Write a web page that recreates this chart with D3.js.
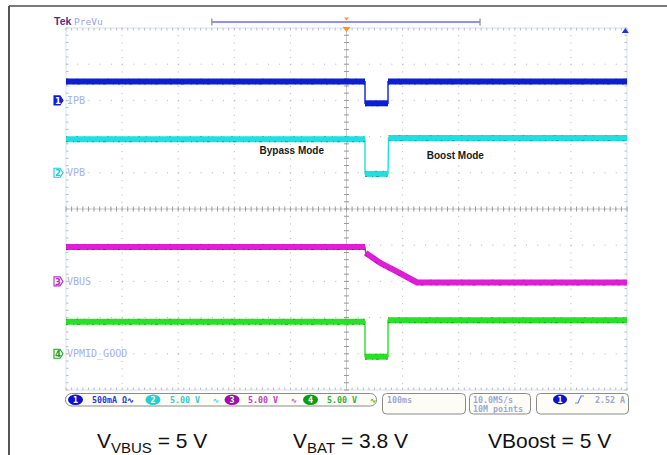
<!DOCTYPE html>
<html><head><meta charset="utf-8">
<script src="https://cdn.jsdelivr.net/npm/d3@7"></script>
<style>
html,body{margin:0;padding:0;background:#fff;}
svg{display:block;}
</style></head>
<body>
<svg id="c" width="667" height="455"></svg>
<script>
// ---- data (time in ms, trigger at 0; 100 ms/div) ----
const channels = ["IPB", "VPB", "VBUS", "VPMID_GOOD"];
const channelScale = [0.5, 5, 5, 5];          // units per division
const channelOffset = [3, 1, -2, -4];          // ground position, divisions
const scaleLabels = ["500mA Ω∿", "5.00 V", "5.00 V", "5.00 V"];
const ipbT = [-500, 33, 33, 74, 74, 500];
const ipbV = [0.26, 0.26, -0.04, -0.04, 0.26, 0.26];
const vpbT = [-500, 33, 33, 74, 75, 500];
const vpbV = [4.65, 4.65, -0.15, -0.15, 4.8, 4.8];
const vbusT = [-500, 33, 34, 60, 90, 126, 500];
const vbusV = [4.76, 4.76, 3.94, 2.56, 1.35, -0.15, -0.15];
const vpmidT = [-500, 33, 33, 74, 74, 500];
const vpmidV = [4.42, 4.42, -0.4, -0.4, 4.65, 4.65];
const modeLabels = ["Bypass Mode", "Boost Mode"];
const modeT = [-155, 143];
const modeDiv = [1.52, 1.38];
const timeDiv = "100ms";
const sampleInfo = ["10.0MS/s", "10M points"];
const trigLevel = "2.52 A";
const captions = [["V", "VBUS", " = 5 V"], ["V", "BAT", " = 3.8 V"], ["VBoost = 5 V", "", ""]];

const colors = ["#0d1fd6", "#1fe0e0", "#e01ed8", "#28e028"];
const markColors = ["#0d1fd6", "#22c8d8", "#b030c0", "#20a020"];
const chipColors = ["#1010d0", "#22d0d0", "#a010a8", "#109c10"];
const textColors = ["#2a3ad8", "#38caca", "#c040c8", "#34b034"];

const svg = d3.select("#c");
const x = d3.scaleLinear().domain([-500, 500]).range([66, 627]);
const yd = d3.scaleLinear().domain([-5, 5]).range([390, 28]);
const yCh = (i, v) => yd(channelOffset[i] + v / channelScale[i]);

// outer frame
svg.append("line").attr("x1", 9).attr("x2", 667).attr("y1", 6).attr("y2", 6).attr("stroke", "#7a7a7a").attr("stroke-width", 2);
svg.append("line").attr("x1", 9).attr("x2", 9).attr("y1", 6).attr("y2", 455).attr("stroke", "#555").attr("stroke-width", 2);

// grid
const g = svg.append("g");
g.append("rect").attr("x", x(-500)).attr("y", yd(5)).attr("width", x(500) - x(-500)).attr("height", yd(-5) - yd(5))
  .attr("fill", "none").attr("stroke", "#dbe6f4").attr("stroke-width", 1.2);
const xDivs = d3.range(-400, 500, 100);
const yDivs = d3.range(-4, 5, 1);
const minorX = (x(100) - x(0)) / 5, minorY = (yd(0) - yd(1)) / 5;
xDivs.forEach(t => {
  g.append("line").attr("x1", x(t)).attr("x2", x(t)).attr("y1", yd(5)).attr("y2", yd(-5))
    .attr("stroke", "#b4b4b4").attr("stroke-dasharray", `1 ${minorY - 1}`);
});
yDivs.forEach(d => {
  g.append("line").attr("x1", x(-500)).attr("x2", x(500)).attr("y1", yd(d)).attr("y2", yd(d))
    .attr("stroke", "#b4b4b4").attr("stroke-dasharray", `1 ${minorX - 1}`);
});
// center axes
g.append("line").attr("x1", x(0)).attr("x2", x(0)).attr("y1", yd(5)).attr("y2", yd(-5)).attr("stroke", "#bbb").attr("stroke-width", 0.8);
g.append("line").attr("x1", x(-500)).attr("x2", x(500)).attr("y1", yd(0)).attr("y2", yd(0)).attr("stroke", "#bbb").attr("stroke-width", 0.8);
d3.range(-50, 51).forEach(k => {
  const xx = x(k * 10);
  g.append("line").attr("x1", xx).attr("x2", xx).attr("y1", yd(0) - 2.5).attr("y2", yd(0) + 2.5).attr("stroke", "#999");
  g.append("line").attr("x1", xx).attr("x2", xx).attr("y1", yd(5)).attr("y2", yd(5) + 2.5).attr("stroke", "#bbb");
  g.append("line").attr("x1", xx).attr("x2", xx).attr("y1", yd(-5)).attr("y2", yd(-5) - 2.5).attr("stroke", "#bbb");
});
d3.range(-25, 26).forEach(k => {
  const yy = yd(k / 5);
  g.append("line").attr("x1", x(0) - 2.5).attr("x2", x(0) + 2.5).attr("y1", yy).attr("y2", yy).attr("stroke", "#999");
  g.append("line").attr("x1", x(-500)).attr("x2", x(-500) + 2.5).attr("y1", yy).attr("y2", yy).attr("stroke", "#bbb");
  g.append("line").attr("x1", x(500)).attr("x2", x(500) - 2.5).attr("y1", yy).attr("y2", yy).attr("stroke", "#bbb");
});

// top header
svg.append("text").attr("x", 54).attr("y", 25).text("Tek").attr("font-family", "Liberation Sans, Arial").attr("font-weight", "bold").attr("font-size", 10.5).attr("fill", "#5a2a90");
svg.append("text").attr("x", 74).attr("y", 25).text("PreVu").attr("font-family", "DejaVu Sans Mono").attr("font-size", 9.5).attr("fill", "#98a4e8");
svg.append("line").attr("x1", x(-240)).attr("x2", x(238)).attr("y1", 22).attr("y2", 22).attr("stroke", "#6c6cf0").attr("stroke-width", 1.3);
[x(-240), x(238)].forEach(xx => svg.append("line").attr("x1", xx).attr("x2", xx).attr("y1", 18.5).attr("y2", 25.5).attr("stroke", "#888").attr("stroke-width", 1.2));
svg.append("path").attr("d", `M${x(0) - 2.5},17.5L${x(0) + 2.5},17.5L${x(0)},20.5Z`).attr("fill", "#f5a020");
svg.append("path").attr("d", `M${x(0) - 4},27L${x(0) + 4},27L${x(0)},32Z`).attr("fill", "#f59a10");
svg.append("path").attr("d", `M${x(497) - 3.5},33L${x(497) + 3.5},33L${x(497)},28Z`).attr("fill", "#2030e0");

// traces: thin transitions, thick noisy bands for settled/ramping segments
const series = [[ipbT, ipbV], [vpbT, vpbV], [vbusT, vbusV], [vpmidT, vpmidV]];
const line = d3.line();
series.forEach(([ts, vs], i) => {
  const pts = ts.map((t, k) => [x(t), yCh(i, vs[k])]);
  svg.append("path").attr("d", line(pts)).attr("fill", "none").attr("stroke", colors[i]).attr("stroke-width", 1.4);
  // group consecutive non-vertical segments into runs
  const runs = [];
  let cur = [pts[0]];
  for (let k = 1; k < pts.length; k++) {
    if (Math.abs(pts[k][0] - pts[k - 1][0]) < 0.8) { if (cur.length > 1) runs.push(cur); cur = [pts[k]]; }
    else cur.push(pts[k]);
  }
  if (cur.length > 1) runs.push(cur);
  runs.forEach(r => {
    svg.append("path").attr("d", line(r)).attr("fill", "none").attr("stroke", colors[i]).attr("stroke-width", 6).attr("stroke-linejoin", "round");
    svg.append("path").attr("d", line(r)).attr("fill", "none").attr("stroke", "#000").attr("stroke-opacity", 0.35)
      .attr("stroke-width", 0.9).attr("transform", "translate(0,2.6)").attr("stroke-dasharray", "2 5 1 3 3 7 1 4");
    svg.append("path").attr("d", line(r)).attr("fill", "none").attr("stroke", "#000").attr("stroke-opacity", 0.25)
      .attr("stroke-width", 0.8).attr("transform", "translate(0,-2.6)").attr("stroke-dasharray", "1 9 2 6 1 12");
  });
});

// channel markers
channels.forEach((name, i) => {
  const yy = yd(channelOffset[i]);
  const x0 = 54;
  svg.append("path").attr("d", `M${x0},${yy - 4.5}L${x0 + 6},${yy - 4.5}L${x0 + 9},${yy}L${x0 + 6},${yy + 4.5}L${x0},${yy + 4.5}Z`)
    .attr("fill", i === 0 ? markColors[0] : "#fff").attr("stroke", markColors[i]).attr("stroke-width", 1.1);
  svg.append("text").attr("x", x0 + 4).attr("y", yy + 3.3).attr("text-anchor", "middle").text(i + 1)
    .attr("font-family", "DejaVu Sans").attr("font-weight", "bold").attr("font-size", 8.5).attr("fill", i === 0 ? "#fff" : markColors[i]);
  svg.append("text").attr("x", 67).attr("y", yy + 3.5).text(name).attr("font-family", "DejaVu Sans Mono").attr("font-size", 10).attr("fill", "#a4b2e6");
});

// mode labels
modeLabels.forEach((s, i) => {
  svg.append("text").attr("x", x(modeT[i])).attr("y", yd(modeDiv[i])).text(s)
    .attr("font-family", "Liberation Sans, Arial").attr("font-weight", "bold").attr("font-size", 10).attr("fill", "#1a1a1a");
});

// status bar
const sb = svg.append("g").attr("font-family", "DejaVu Sans Mono").attr("font-weight", "bold").attr("font-size", 8.3);
sb.append("rect").attr("x", 65.5).attr("y", 393.5).attr("width", 311).attr("height", 12.5).attr("rx", 6).attr("fill", "#fdfdf6").attr("stroke", "#8a8a8a");
const chipX = [75.5, 153, 232, 310.5];
const labX = [92, 170, 248, 327];
const wavX = [null, 213, 291, 370];
chipX.forEach((cx, i) => {
  sb.append("ellipse").attr("cx", cx).attr("cy", 399.7).attr("rx", 7.5).attr("ry", 5.2).attr("fill", chipColors[i]);
  sb.append("text").attr("x", cx).attr("y", 402.7).attr("text-anchor", "middle").text(i + 1).attr("fill", "#fff");
  sb.append("text").attr("x", labX[i]).attr("y", 402.8).text(scaleLabels[i]).attr("fill", textColors[i]);
  if (wavX[i]) sb.append("text").attr("x", wavX[i]).attr("y", 402.8).text("∿").attr("font-size", 7).attr("fill", textColors[i]);
});
[[382, 83], [469, 61], [536, 92]].forEach(([bx, bw]) => {
  sb.append("rect").attr("x", bx + 0.5).attr("y", 393.5).attr("width", bw).attr("height", 20.5).attr("rx", 4).attr("fill", "#fdfdf6").attr("stroke", "#8a8a8a");
});
sb.append("text").attr("x", 387).attr("y", 402.5).text(timeDiv).attr("fill", "#9ea8d8");
sb.append("text").attr("x", 473).attr("y", 402.5).text(sampleInfo[0]).attr("fill", "#9ea8d8");
sb.append("text").attr("x", 473).attr("y", 411.5).text(sampleInfo[1]).attr("fill", "#9ea8d8");
sb.append("ellipse").attr("cx", 560).attr("cy", 399.5).attr("rx", 7).attr("ry", 5).attr("fill", chipColors[0]);
sb.append("text").attr("x", 560).attr("y", 402.5).attr("text-anchor", "middle").text("1").attr("fill", "#fff");
sb.append("path").attr("d", "M575,403L578,403L581,396L584,396").attr("fill", "none").attr("stroke", "#7080e0").attr("stroke-width", 1.2);
sb.append("text").attr("x", 595).attr("y", 402.5).text(trigLevel).attr("fill", "#9ea8d8");

// captions
const capX = [97, 293, 488];
captions.forEach((c, i) => {
  const t = svg.append("text").attr("x", capX[i]).attr("y", 448).attr("font-family", "Liberation Sans, Arial").attr("font-size", 21).attr("fill", "#111");
  t.append("tspan").text(c[0]);
  if (c[1]) t.append("tspan").text(c[1]).attr("font-size", 15).attr("dy", 5);
  if (c[2]) t.append("tspan").text(c[2]).attr("dy", -5);
});
</script>
</body></html>
